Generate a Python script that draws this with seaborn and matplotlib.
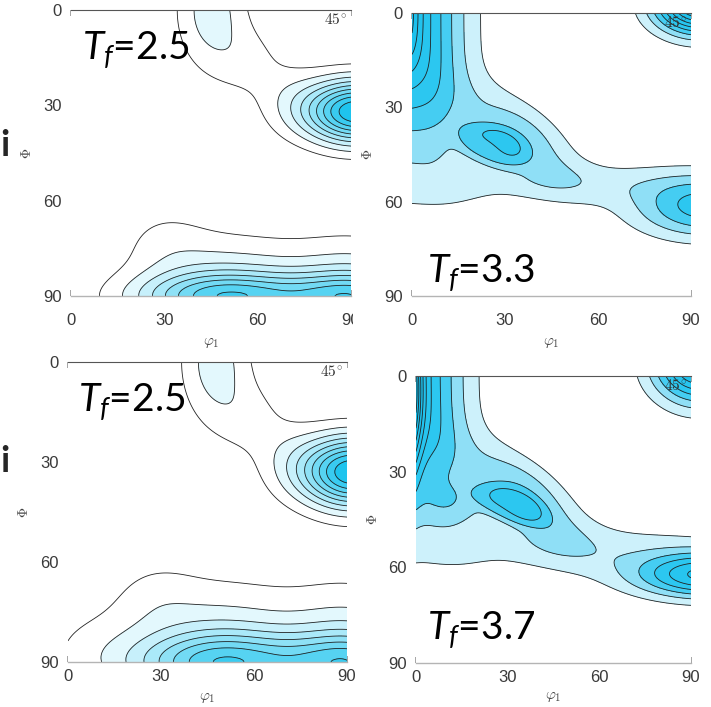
import numpy as np
import matplotlib
matplotlib.use("Agg")
import matplotlib.pyplot as plt
import seaborn as sns
from matplotlib.patches import Rectangle

# ODF sections (phi2 = 45 deg); each field is a sum of peaks
# peak = (phi1, Phi, width 1, width 2, height, tilt deg, contour shape p, profile q)
tl_peaks = [(92, 32, 12, 7, 10, 0, 2, 2), (45, 0, 8, 13, 2.5, 0, 2, 2),
            (57, 16, 8, 8, 1.1, 0, 2, 2), (70, 28, 8, 8, 1.0, 0, 2, 2),
            (50, 90, 20, 12, 3.4, 0, 2, 2), (50, 90, 20, 5, 4.6, 0, 2, 2),
            (92, 90, 15, 12, 3.0, 0, 2, 2), (92, 90, 15, 5, 4.0, 0, 2, 2),
            (30, 72, 10, 8, 0.8, 0, 2, 2)]
bl_peaks = [(92, 33, 12, 7.5, 10, 0, 2, 2), (47.5, 0, 8, 13, 2.5, 0, 2, 2),
            (59, 17, 8, 8, 1.1, 0, 2, 2), (71, 29, 8, 8, 1.0, 0, 2, 2),
            (50, 90, 20, 15, 3.4, 0, 2, 2), (50, 90, 20, 6, 4.6, 0, 2, 2),
            (92, 90, 15, 15, 3.0, 0, 2, 2), (92, 90, 15, 6, 4.0, 0, 2, 2),
            (28, 70, 10, 8, 0.8, 0, 2, 2), (8, 86, 14, 10, 0.9, 0, 2, 2)]
tr_peaks = [(-4, 0, 13.5, 30, 6.5, 0, 4, 2), (-2, 0, 3, 12, 2.6, 0, 2, 2),
            (36, 40, 14, 7, 2.6, 38, 2, 2), (26, 42, 10, 5.5, 2.2, 20, 2, 4),
            (55, 54, 35, 5, 1.25, 0, 2, 2), (95, 62, 16, 6.75, 4.4, 0, 2, 2),
            (93, -3, 10, 6.5, 10, 0, 2, 2)]
br_peaks = [(-3, 0, 12.6, 28, 5.8, 0, 4, 2), (-3, 5, 3, 18, 8.2, 0, 2, 2),
            (36, 38, 15, 7, 3.0, 38, 2, 2), (31, 40.5, 10.5, 4.5, 1.8, 20, 2, 4),
            (12, 40, 9, 5, 1.2, 0, 2, 2), (55, 54, 35, 6, 1.35, 0, 2, 2),
            (96, 62.5, 17, 5, 6.2, 0, 2, 2), (93, -4, 10.4, 8.5, 8, 0, 2, 2)]

tl_levels = [1, 2, 3, 4, 5, 6, 7, 8, 9]
bl_levels = [1, 2, 3, 4, 5, 6, 7, 8, 9]
tr_levels = [1, 2, 3, 4, 5, 6, 7, 8]
br_levels = [1, 2, 3, 4, 5, 6, 7, 8, 9, 10]

titles = ["2.5", "3.3", "2.5", "3.7"]
ticks = [0, 30, 60, 90]

# axes boxes in pixels: x0, y0 (top), x1, y1 (bottom)
boxes = [(71, 10, 351, 296), (412, 13, 691, 296),
         (68, 362, 347, 662), (416, 376, 691, 663)]
tf_pos = [(3.5, 15.7), (4.8, 86), (3.2, 15), (3.6, 82.8)]

W, H = 711, 707

sns.set_theme(style="white")
plt.rcParams["font.family"] = ["Liberation Sans", "DejaVu Sans"]
plt.rcParams["mathtext.fontset"] = "custom"
plt.rcParams["mathtext.it"] = "Lato:italic"
plt.rcParams["mathtext.rm"] = "Lato"

cyan = "#1ec4ee"
left_pal = ["#ffffff", "#ffffff"] + sns.blend_palette(["#ffffff", cyan], 9)[1:]
right_pal = (["#ffffff", "#cdf1fb", "#8fdff6", "#45cdf2"]
             + sns.blend_palette(["#2cc7f0", "#0cbbea"], 7))

p1 = np.linspace(0, 90, 181)
P = np.linspace(0, 90, 181)
X, Y = np.meshgrid(p1, P)


def field(peaks):
    z = np.zeros_like(X)
    for x0, y0, s1, s2, h, ang, p, q in peaks:
        a = np.deg2rad(ang)
        dx, dy = X - x0, Y - y0
        u = dx * np.cos(a) + dy * np.sin(a)
        v = -dx * np.sin(a) + dy * np.cos(a)
        r = (np.abs(u / s1) ** p + np.abs(v / s2) ** p) ** (1 / p)
        z += h * np.exp(-0.5 * r ** q)
    return z


fig = plt.figure(figsize=(W / 100, H / 100), dpi=100)

panels = [(tl_peaks, tl_levels, left_pal), (tr_peaks, tr_levels, right_pal),
          (bl_peaks, bl_levels, left_pal), (br_peaks, br_levels, right_pal)]

for i, (peaks, levels, pal) in enumerate(panels):
    x0, y0, x1, y1 = boxes[i]
    ax = fig.add_axes([x0 / W, 1 - y1 / H, (x1 - x0) / W, (y1 - y0) / H])
    z = field(peaks)
    fill_levels = [-1] + levels + [999]
    ax.contourf(X, Y, z, levels=fill_levels, colors=pal[:len(fill_levels) - 1])
    ax.contour(X, Y, z, levels=levels, colors="#222222", linewidths=0.6)
    ax.set_xlim(0, 90)
    ax.set_ylim(90, 0)
    ax.set_xticks(ticks)
    ax.set_yticks(ticks)
    for s in ["left", "right"]:
        ax.spines[s].set_visible(False)
    ax.spines["top"].set_color("#555555")
    ax.spines["top"].set_linewidth(0.8)
    ax.spines["bottom"].set_color("#b4b4b4")
    ax.spines["bottom"].set_linewidth(1.0)
    bottom_row = i >= 2
    ax.tick_params(axis="x", direction="in", length=4, top=True, bottom=True,
                   color="#9a9a9a", labelsize=12, pad=5 if bottom_row else 12,
                   labelcolor="#3a3a3a")
    ax.tick_params(axis="y", length=0, labelsize=12, pad=6.5, labelcolor="#3a3a3a")

    ax.text(85, 3, r"$45^{\!\circ}$", math_fontfamily="cm", fontsize=11,
            ha="center", va="center", color="#333333")
    ax.text(0.5, -0.12 if bottom_row else -0.165, r"$\varphi_1$",
            math_fontfamily="cm", fontsize=11, transform=ax.transAxes,
            ha="center", va="center", color="#444444")
    ax.text(-0.157, 0.5, r"$\Phi$", math_fontfamily="cm", fontsize=10,
            transform=ax.transAxes, rotation=90, ha="center", va="center",
            color="#444444")
    tx, ty = tf_pos[i]
    ax.text(tx, ty, r"$T_f$=" + titles[i], family="Lato", fontsize=28,
            ha="left", va="baseline", color="black")


def cover(px0, py0, px1, py1):
    fig.patches.append(Rectangle((px0 / W, 1 - py1 / H), (px1 - px0) / W,
                                 (py1 - py0) / H, transform=fig.transFigure,
                                 facecolor="white", edgecolor="none", zorder=10))


# left image of the top row is cut at its right edge
cover(353, 305, 385, 336)

fig.text(0, 1 - 146 / H, "i", family="Lato", fontsize=26, fontweight="bold",
         ha="left", va="center")
fig.text(0, 1 - 462 / H, "i", family="Lato", fontsize=26, fontweight="bold",
         ha="left", va="center")

fig.savefig("out.png", dpi=100)
